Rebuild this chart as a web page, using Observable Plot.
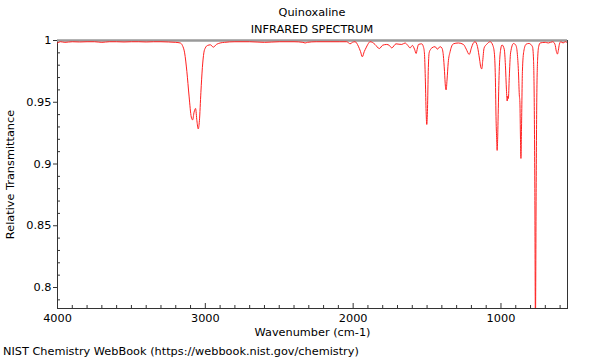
<!DOCTYPE html>
<html>
<head>
<meta charset="utf-8">
<script src="https://cdn.jsdelivr.net/npm/d3@7"></script>
<script src="https://cdn.jsdelivr.net/npm/@observablehq/plot@0.6"></script>
<style>
  body { margin: 0; background: #fff; font-family: "DejaVu Sans", sans-serif; }
  #wrap { position: relative; width: 600px; height: 360px; overflow: hidden; }
  .title { position: absolute; top: 4px; left: 57px; width: 510px; text-align: center; font-size: 11.3px; line-height: 17px; color: #000; }
  .caption { font-size: 11.3px; line-height: 20px; padding-left: 3px; color: #000; }
  svg { display: block; }
</style>
</head>
<body>
<div id="wrap">
  <div id="chart"></div>
  <div class="caption">NIST Chemistry WebBook (https://webbook.nist.gov/chemistry)</div>
  <div class="title"><div>Quinoxaline</div><div>INFRARED SPECTRUM</div></div>
</div>
<script>
const wavenumber = [
  4000, 3980, 3950, 3900, 3850, 3800, 3750, 3700, 3650, 3600, 3550, 3500, 3450, 3400, 3350, 3300, 3250, 3200, 3170,
  3155, 3140, 3125, 3110, 3095, 3086, 3076, 3066, 3057, 3048, 3040, 3030, 3020, 3010, 3000, 2985, 2965, 2946, 2925,
  2900, 2870, 2800, 2700, 2600, 2500, 2400, 2340, 2325, 2310, 2250, 2150, 2090, 2044, 2030, 2021, 2005, 1987,
  1965, 1950, 1938, 1925, 1913, 1900, 1886, 1870, 1852, 1823, 1800, 1773, 1755, 1739, 1710, 1690, 1671, 1649,
  1630, 1615, 1599, 1585, 1574, 1565, 1558, 1536, 1525, 1518, 1512, 1507, 1502, 1497, 1492, 1486, 1475, 1468,
  1446, 1430, 1412, 1400, 1390, 1382, 1376, 1371, 1365, 1357, 1344, 1322, 1288, 1254, 1235, 1215, 1200, 1190,
  1175, 1159, 1145, 1136, 1130, 1124, 1114, 1096, 1073, 1055, 1045, 1038, 1033, 1029, 1026, 1023, 1019, 1012,
  1003, 993, 978, 970, 963, 958, 954, 950, 944, 935, 915, 899, 890, 882, 876, 872, 868, 865, 861, 855, 846,
  830, 811, 787, 780, 775, 771, 767, 762, 758, 752, 745, 735, 700, 680, 650, 635, 625, 618, 612, 605, 595, 580, 565, 550
];
const transmittance = [
  0.998, 0.999, 0.9985, 0.999, 0.9988, 0.999, 0.999, 0.9985, 0.999, 0.999, 0.9988, 0.999, 0.999, 0.9988, 0.999, 0.999, 0.9988, 0.9985, 0.998,
  0.996, 0.99, 0.975, 0.955, 0.938, 0.9357, 0.942, 0.945, 0.935, 0.9284, 0.935, 0.958, 0.978, 0.99, 0.994, 0.996, 0.9965, 0.9946, 0.9968,
  0.998, 0.9985, 0.999, 0.999, 0.9985, 0.999, 0.999, 0.9985, 0.998, 0.9985, 0.999, 0.999, 0.999, 0.999, 0.998, 0.9973, 0.9985, 0.999,
  0.9954, 0.991, 0.9868, 0.991, 0.994, 0.997, 0.999, 0.9985, 0.9968, 0.9935, 0.9962, 0.9968, 0.996, 0.994, 0.9973, 0.997, 0.9968, 0.998,
  0.996, 0.994, 0.996, 0.993, 0.9895, 0.994, 0.9968, 0.9973, 0.995, 0.99, 0.97, 0.945, 0.932, 0.945, 0.975, 0.99, 0.993, 0.994,
  0.995, 0.993, 0.995, 0.994, 0.988, 0.975, 0.963, 0.960, 0.968, 0.982, 0.991, 0.9973, 0.998, 0.9968, 0.993, 0.9887, 0.994, 0.9973,
  0.999, 0.995, 0.985, 0.978, 0.977, 0.983, 0.994, 0.997, 0.999, 0.996, 0.99, 0.97, 0.935, 0.92, 0.911, 0.918, 0.94, 0.975,
  0.992, 0.9964, 0.993, 0.98, 0.96, 0.951, 0.955, 0.953, 0.97, 0.99, 0.9976, 0.996, 0.99, 0.975, 0.956, 0.95, 0.92, 0.9045, 0.93, 0.975, 0.991,
  0.997, 0.9976, 0.995, 0.985, 0.95, 0.88, 0.77, 0.88, 0.95, 0.985, 0.995, 0.998, 0.9985, 0.998, 0.999, 0.997, 0.991, 0.989, 0.992, 0.997, 0.999, 0.998, 0.999, 0.998
];
const xMajor = [4000, 3000, 2000, 1000];
const xMinor = d3.range(600, 4000, 100).filter(v => !xMajor.includes(v));
const yMajor = [0.8, 0.85, 0.9, 0.95, 1];
const yMinor = [0.79, 0.81, 0.82, 0.83, 0.84, 0.86, 0.87, 0.88, 0.89, 0.91, 0.92, 0.93, 0.94, 0.96, 0.97, 0.98, 0.99];
const xLabel = "Wavenumber (cm-1)";
const yLabel = "Relative Transmittance";

const spectrum = wavenumber.map((w, i) => ({w, t: transmittance[i]}));

const W = 600, H = 342, mT = 40, mB = 34, mL = 57, mR = 33;
const plotW = W - mL - mR, plotH = H - mT - mB;

const chart = Plot.plot({
  width: W, height: H,
  marginTop: mT, marginBottom: mB, marginLeft: mL, marginRight: mR,
  style: {fontFamily: "DejaVu Sans, sans-serif", fontSize: "11.3px", color: "#000", background: "#fff"},
  x: {type: "linear", domain: [4000, 550]},
  y: {type: "linear", domain: [0.783, 1]},
  marks: [
    Plot.frame({stroke: "#333", strokeWidth: 1}),
    Plot.ruleY([1], {stroke: "#9a9a9a", strokeWidth: 2.5}),
    Plot.line(spectrum, {x: "w", y: "t", stroke: "#ff2020", strokeWidth: 1, curve: "monotone-x", clip: true}),
    Plot.tickX(xMinor, {x: d => d, stroke: "#333", insetTop: plotH - 3}),
    Plot.tickX(xMajor, {x: d => d, stroke: "#333", insetTop: plotH - 5}),
    Plot.tickY(yMinor, {y: d => d, stroke: "#333", insetRight: plotW - 3}),
    Plot.axisY({ticks: yMajor, tickSize: 4, tickPadding: 2, tickFormat: d => String(d), label: null, stroke: "#333"}),
    Plot.axisX({ticks: xMajor, tickSize: 0, tickPadding: 5, tickFormat: d => String(d), label: null}),
    Plot.text([xLabel], {frameAnchor: "bottom", dy: 27, fontSize: 11.3, fill: "#000"}),
    Plot.text([yLabel], {frameAnchor: "left", dx: -47, rotate: -90, textAnchor: "middle", fontSize: 11.3, fill: "#000"})
  ]
});
document.getElementById("chart").appendChild(chart);
</script>
</body>
</html>
